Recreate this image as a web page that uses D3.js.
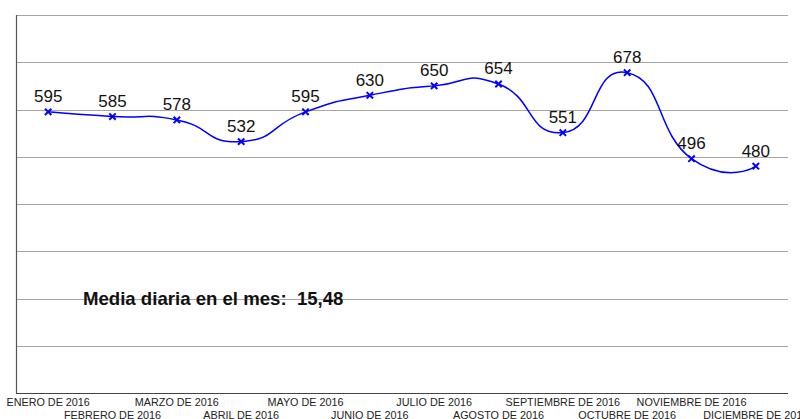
<!doctype html>
<html lang="es">
<head>
  <meta charset="utf-8">
  <title>Media diaria por mes 2016</title>
  <script src="https://d3js.org/d3.v7.min.js"></script>
  <style>
    body { margin: 0; background: #fff; }
    svg { display: block; font-family: "Liberation Sans", Arial, sans-serif; }
  </style>
</head>
<body>
<svg id="chart" width="800" height="419"></svg>
<script>
  var months = ["ENERO DE 2016", "FEBRERO DE 2016", "MARZO DE 2016", "ABRIL DE 2016",
                "MAYO DE 2016", "JUNIO DE 2016", "JULIO DE 2016", "AGOSTO DE 2016",
                "SEPTIEMBRE DE 2016", "OCTUBRE DE 2016", "NOVIEMBRE DE 2016", "DICIEMBRE DE 2016"];
  var values = [595, 585, 578, 532, 595, 630, 650, 654, 551, 678, 496, 480];
  var gridTicks = [100, 200, 300, 400, 500, 600, 700, 800];
  var note = "Media diaria en el mes:  15,48";

  var svg = d3.select("#chart");
  var plotLeft = 16, plotRight = 788, plotTop = 15, plotBottom = 393;

  var x = d3.scaleBand().domain(months).range([plotLeft, plotRight]);
  var y = d3.scaleLinear().domain([0, 800]).range([plotBottom, plotTop]);
  var cx = function(d) { return x(d) + x.bandwidth() / 2; };

  // gridlines
  svg.append("g").selectAll("line")
    .data(gridTicks)
    .enter().append("line")
    .attr("x1", plotLeft).attr("x2", plotRight)
    .attr("y1", function(d) { return Math.round(y(d)) + 0.5; })
    .attr("y2", function(d) { return Math.round(y(d)) + 0.5; })
    .attr("stroke", "#a6a6a6")
    .attr("stroke-width", 1);

  // axes lines
  svg.append("line").attr("x1", plotLeft + 0.5).attr("x2", plotLeft + 0.5)
    .attr("y1", plotTop).attr("y2", plotBottom)
    .attr("stroke", "#555").attr("stroke-width", 1.2);
  svg.append("line").attr("x1", plotLeft).attr("x2", plotRight)
    .attr("y1", plotBottom + 0.5).attr("y2", plotBottom + 0.5)
    .attr("stroke", "#444").attr("stroke-width", 1.2);

  // x labels, alternating rows
  svg.append("g").selectAll("text")
    .data(months)
    .enter().append("text")
    .attr("x", function(d) { return cx(d); })
    .attr("y", function(d, i) { return i % 2 == 0 ? 406 : 418.5; })
    .attr("text-anchor", "middle")
    .attr("font-size", "10.8px")
    .attr("fill", "#222")
    .text(function(d) { return d; });

  var pts = months.map(function(m, i) { return [cx(m), y(values[i])]; });

  var line = d3.line().curve(d3.curveCardinal.tension(-0.7));
  svg.append("path")
    .attr("d", line(pts))
    .attr("fill", "none")
    .attr("stroke", "#0000ff")
    .attr("stroke-width", 1.5);

  // x markers
  var s = 3.2;
  svg.append("g").selectAll("path")
    .data(pts)
    .enter().append("path")
    .attr("d", function(p) {
      return "M" + (p[0] - s) + "," + (p[1] - s) + "L" + (p[0] + s) + "," + (p[1] + s) +
             "M" + (p[0] - s) + "," + (p[1] + s) + "L" + (p[0] + s) + "," + (p[1] - s);
    })
    .attr("stroke", "#0000ff")
    .attr("stroke-width", 2);

  // value labels
  svg.append("g").selectAll("text")
    .data(values)
    .enter().append("text")
    .attr("x", function(d, i) { return cx(months[i]); })
    .attr("y", function(d) { return y(d) - 9.5; })
    .attr("text-anchor", "middle")
    .attr("font-size", "17px")
    .attr("fill", "#111")
    .text(function(d) { return d; });

  svg.append("text")
    .attr("x", 83).attr("y", 305)
    .attr("font-size", "18.6px")
    .attr("font-weight", "bold")
    .attr("fill", "#111")
    .style("white-space", "pre")
    .text(note);
</script>
</body>
</html>
